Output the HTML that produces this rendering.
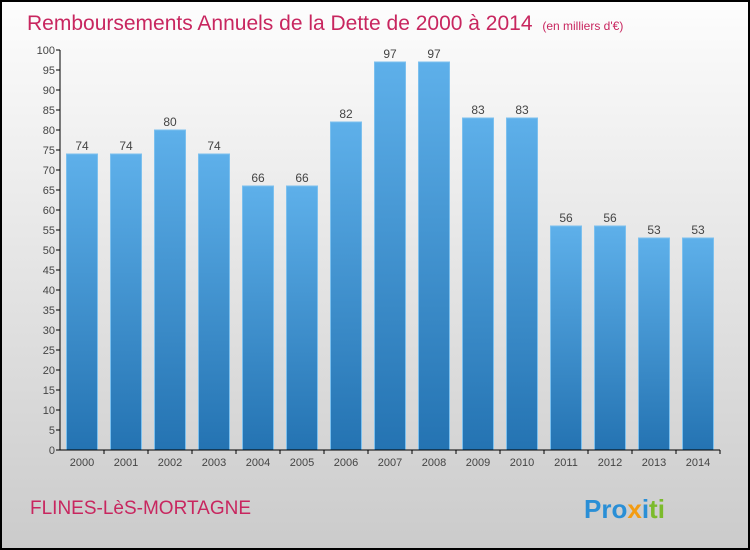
<!DOCTYPE html>
<html><head><meta charset="utf-8"><style>
body{margin:0}
svg{display:block;font-family:"Liberation Sans",sans-serif}
</style></head><body>
<svg width="750" height="550" xmlns="http://www.w3.org/2000/svg">
<defs>
<linearGradient id="bg" x1="0" y1="0" x2="0" y2="1"><stop offset="0" stop-color="#fdfdfd"/><stop offset="1" stop-color="#cbcbcb"/></linearGradient>
<linearGradient id="bar" x1="0" y1="0" x2="0" y2="1"><stop offset="0" stop-color="#5eb0ea"/><stop offset="1" stop-color="#2473b2"/></linearGradient>
</defs>
<rect x="1" y="1" width="748" height="548" fill="url(#bg)" stroke="#000" stroke-width="2"/>
<text x="27" y="30" font-size="21" fill="#c8265f">Remboursements Annuels de la Dette de 2000 à 2014 <tspan font-size="12" dx="4">(en milliers d'€)</tspan></text>
<g id="yaxis"></g>
<g id="bars"></g>
<g id="xaxis"></g>
<text x="30" y="514" font-size="19" fill="#c8265f">FLINES-LèS-MORTAGNE</text>
<text x="584" y="518" font-size="26" font-weight="bold"><tspan fill="#2a8fd6">Pro</tspan><tspan fill="#f39c12">x</tspan><tspan fill="#2a8fd6">i</tspan><tspan fill="#7cbb2c">ti</tspan></text>
</svg>
<script>
const years=["2000","2001","2002","2003","2004","2005","2006","2007","2008","2009","2010","2011","2012","2013","2014"];
const values=[74,74,80,74,66,66,82,97,97,83,83,56,56,53,53];
const yTicks=[0,5,10,15,20,25,30,35,40,45,50,55,60,65,70,75,80,85,90,95,100];
const NS="http://www.w3.org/2000/svg";
const x0=60,x1=720,yB=450,yT=50,band=(x1-x0)/years.length,bw=31;
const y=v=>yB-(v/100)*(yB-yT);
const xc=i=>x0+band*(i+0.5);
function mk(t,a,p){const e=document.createElementNS(NS,t);for(const k in a)e.setAttribute(k,a[k]);p.appendChild(e);return e;}
const ya=document.getElementById('yaxis'),ba=document.getElementById('bars'),xa=document.getElementById('xaxis');
mk('line',{x1:x0,y1:yT,x2:x0,y2:yB,stroke:'#000','stroke-width':1},ya);
yTicks.forEach(t=>{
 const l=mk('line',{x1:x0-4,y1:y(t),x2:x0,y2:y(t),stroke:'#000'},ya);
 const tx=mk('text',{x:x0-5,y:y(t)+4,'font-size':11,fill:'#444','text-anchor':'end'},ya);
 
 
 tx.textContent=t;
});
mk('line',{x1:x0,y1:yB,x2:x1,y2:yB,stroke:'#000'},xa);
years.forEach((yr,i)=>{
 const v=values[i];
 const r=mk('rect',{x:xc(i)-bw/2,y:y(v),width:bw,height:yB-y(v),fill:'url(#bar)',stroke:'#7cc0ee','stroke-width':1},ba);
 
 
 const vl=mk('text',{x:xc(i),y:y(v)-4,'font-size':12,fill:'#444','text-anchor':'middle'},ba);
 
 
 vl.textContent=v;
 mk('line',{x1:x0+band*(i+1),y1:yB,x2:x0+band*(i+1),y2:yB+4,stroke:'#000'},xa);
 const xl=mk('text',{x:xc(i),y:yB+16,'font-size':11,fill:'#444','text-anchor':'middle'},xa);
 
 
 xl.textContent=yr;
});
</script>
</body></html>
